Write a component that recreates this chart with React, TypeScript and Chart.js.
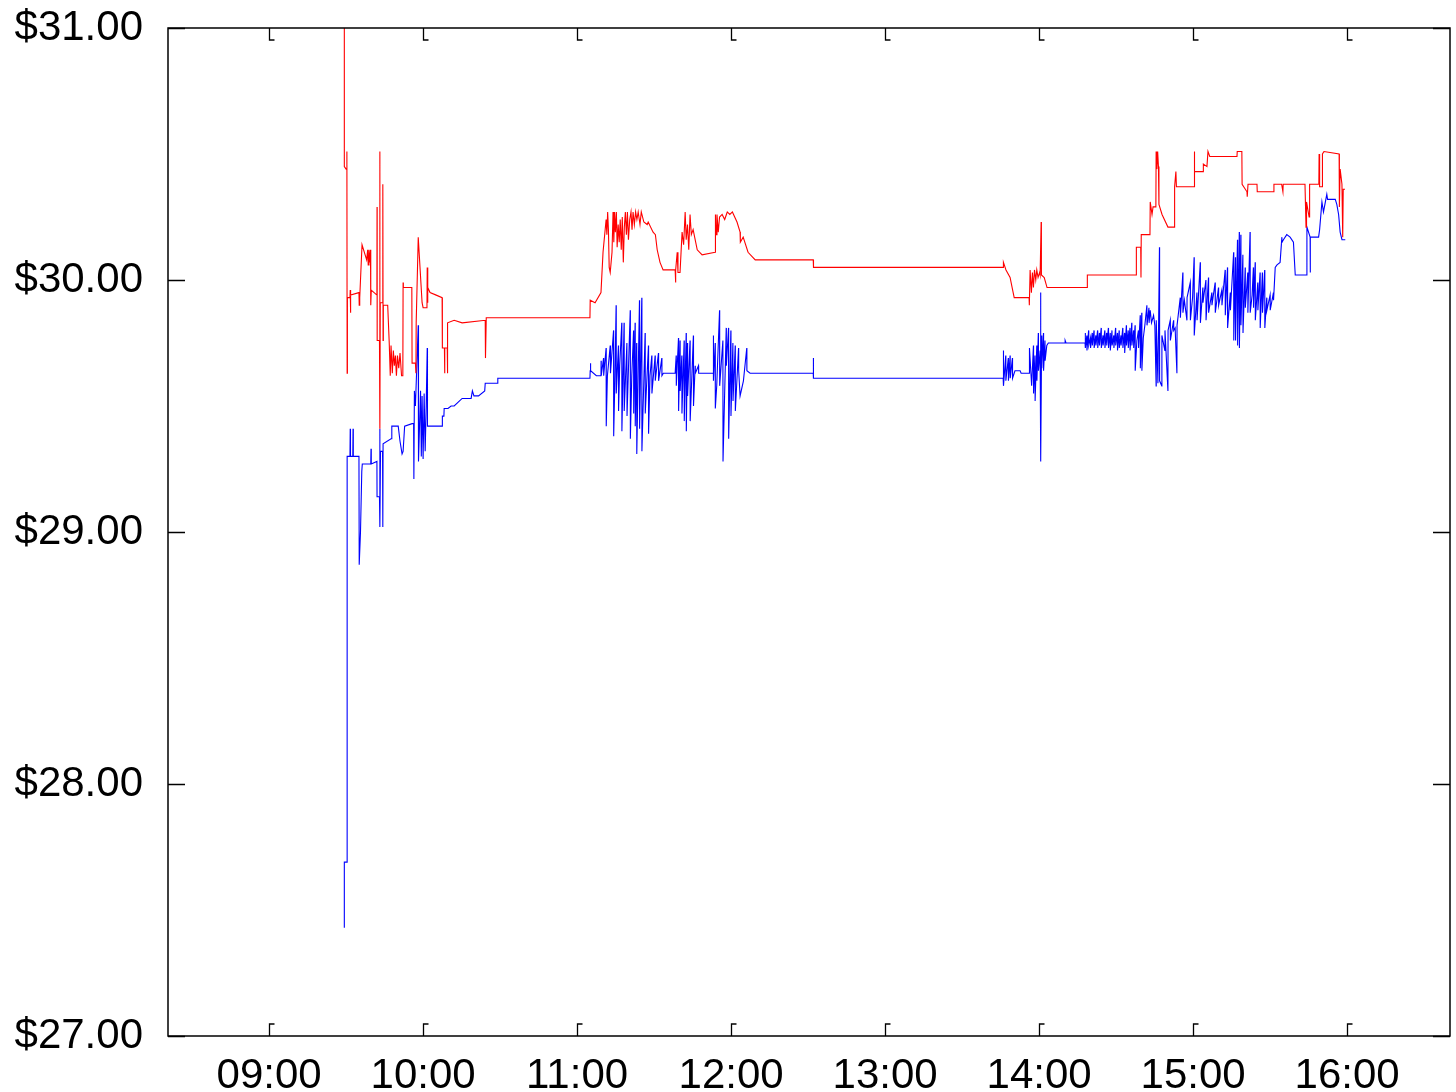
import React, { useEffect, useRef } from 'react';
import { Chart, registerables } from 'chart.js';

Chart.register(...registerables);

// Time axis in minutes after midnight
const xMin = 500.6;
const xMax = 1000.1;
const xTickMinutes = [540, 600, 660, 720, 780, 840, 900, 960];
const xTickLabels = ['09:00', '10:00', '11:00', '12:00', '13:00', '14:00', '15:00', '16:00'];
const yTickValues = [27, 28, 29, 30, 31];
const yTickLabels = ['$27.00', '$28.00', '$29.00', '$30.00', '$31.00'];

// Ask quotes (red): [minute, price]
const askTicks: [number, number][] = [
  [569.3, 31.1], [569.3, 30.45], [570.0, 30.44], [570.3, 30.51], [570.4, 29.63], [570.5, 29.93],
  [571.5, 29.93], [571.6, 29.96], [571.7, 29.87], [571.8, 29.94], [575.0, 29.95], [575.1, 29.9], [575.3, 29.93],
  [576.2, 30.14], [578.0, 30.08], [578.4, 30.12], [578.6, 30.06], [578.9, 30.12], [579.1, 30.07], [579.5, 30.12],
  [579.6, 29.9], [579.8, 29.96], [582.0, 29.94], [582.05, 30.29], [582.1, 29.76], [583.0, 29.76], [583.1, 30.51],
  [583.2, 29.41], [583.3, 29.91], [584.2, 29.91], [584.3, 30.38], [584.4, 29.76], [584.5, 29.9], [586.2, 29.9],
  [586.8, 29.75], [587.2, 29.62], [587.5, 29.74], [588.0, 29.63], [588.4, 29.72], [588.8, 29.66], [589.2, 29.7],
  [589.6, 29.62], [590.0, 29.7], [590.5, 29.65], [591.0, 29.71], [591.6, 29.62], [592.1, 29.62], [592.2, 29.99],
  [592.3, 29.97], [595.6, 29.97], [595.7, 29.67], [597.0, 29.67], [597.2, 29.63], [597.3, 29.83], [598.1, 30.17],
  [599.6, 29.91], [600.0, 29.89], [601.5, 29.89], [601.6, 30.05], [601.7, 29.91], [601.9, 29.97], [602.7, 29.95],
  [605.1, 29.94], [607.4, 29.93], [607.5, 29.73], [608.3, 29.73], [608.35, 29.63], [608.5, 29.73], [609.4, 29.73],
  [609.45, 29.63], [609.6, 29.83], [612.1, 29.84], [615.2, 29.83], [624.2, 29.84], [624.3, 29.69], [624.6, 29.85],
  [665.0, 29.85], [665.1, 29.92], [667.0, 29.91], [669.3, 29.95], [670.1, 30.11], [671.3, 30.24], [671.6, 30.18],
  [671.9, 30.27], [672.2, 30.2], [672.5, 30.05], [672.9, 30.03], [673.6, 30.11], [674.0, 30.27], [674.3, 30.15],
  [674.6, 30.27], [674.9, 30.19], [675.3, 30.27], [675.6, 30.13], [676.0, 30.22], [676.4, 30.15], [676.8, 30.24],
  [677.2, 30.12], [677.6, 30.25], [678.0, 30.07], [678.4, 30.21], [678.8, 30.27], [679.2, 30.18], [679.6, 30.27],
  [680.0, 30.16], [680.5, 30.24], [681.0, 30.27], [681.4, 30.2], [681.8, 30.27], [682.3, 30.22], [682.8, 30.27],
  [683.3, 30.24], [683.8, 30.27], [684.5, 30.22], [685.0, 30.27], [686.0, 30.23], [687.3, 30.22], [687.7, 30.23],
  [689.6, 30.19], [690.5, 30.18], [691.2, 30.12], [692.3, 30.07], [693.5, 30.04], [698.2, 30.04], [698.3, 29.99],
  [698.5, 30.04], [699.0, 30.11], [699.3, 30.03], [700.1, 30.03], [700.9, 30.19], [701.5, 30.14], [702.1, 30.27],
  [702.5, 30.16], [703.0, 30.22], [703.5, 30.12], [704.0, 30.26], [704.5, 30.18], [705.2, 30.2], [706.8, 30.12],
  [708.7, 30.1], [713.8, 30.11], [713.9, 30.26], [714.2, 30.18], [714.5, 30.26], [715.0, 30.19], [715.5, 30.25],
  [716.5, 30.26], [717.5, 30.24], [718.5, 30.27], [719.5, 30.26], [720.5, 30.27], [722.3, 30.23], [723.5, 30.19],
  [723.6, 30.15], [724.7, 30.17], [726.6, 30.11], [729.4, 30.08], [752.0, 30.08], [752.1, 30.05], [826.0, 30.05],
  [826.1, 30.07], [827.1, 30.04], [828.7, 30.01], [829.5, 29.97], [830.3, 29.93], [836.1, 29.93], [836.2, 29.9],
  [836.5, 30.04], [837.0, 29.95], [837.4, 30.03], [837.8, 29.97], [838.2, 30.04], [838.7, 30.0], [839.1, 30.04],
  [839.6, 30.01], [840.2, 30.03], [840.4, 30.02], [840.8, 30.23], [840.9, 30.02], [842.0, 30.01], [843.1, 29.97],
  [858.7, 29.97], [858.8, 30.02], [877.8, 30.02], [877.9, 30.13], [879.6, 30.13], [879.7, 30.01], [879.8, 30.18],
  [883.2, 30.18], [883.3, 30.31], [884.0, 30.26], [884.4, 30.29], [885.5, 30.29], [885.6, 30.51], [885.9, 30.44],
  [886.2, 30.51], [886.5, 30.45], [886.7, 30.3], [887.9, 30.26], [890.2, 30.21], [892.6, 30.21], [892.8, 30.37],
  [893.3, 30.43], [893.5, 30.37], [900.4, 30.37], [900.5, 30.51], [900.6, 30.43], [903.9, 30.43], [904.0, 30.46],
  [905.4, 30.45], [905.8, 30.51], [906.5, 30.49], [908.6, 30.49], [917.1, 30.49], [917.2, 30.51], [919.0, 30.51],
  [919.1, 30.38], [921.0, 30.35], [921.1, 30.33], [921.4, 30.38], [924.9, 30.38], [925.0, 30.35], [928.8, 30.35],
  [931.2, 30.35], [931.5, 30.38], [934.5, 30.38], [935.0, 30.35], [935.1, 30.38], [943.6, 30.38], [944.0, 30.21],
  [944.2, 30.31], [945.2, 30.25], [945.4, 30.38], [949.0, 30.38], [949.1, 30.5], [949.3, 30.37], [950.3, 30.37],
  [950.4, 30.5], [951.0, 30.51], [956.9, 30.5], [957.0, 30.29], [957.3, 30.44], [958.0, 30.38], [958.3, 30.17],
  [958.5, 30.36], [959.2, 30.36],
];

// Bid quotes (blue): [minute, price]
const bidTicks: [number, number][] = [
  [569.3, 27.43], [569.3, 27.69], [570.4, 27.69], [570.4, 29.3], [571.5, 29.3], [571.6, 29.41], [571.7, 29.3],
  [572.6, 29.3], [572.7, 29.41], [572.8, 29.3], [575.0, 29.3], [575.1, 28.87], [575.6, 29.0], [576.1, 29.24],
  [576.3, 29.27], [579.6, 29.27], [579.7, 29.33], [579.8, 29.27], [582.0, 29.28], [582.05, 29.14], [583.0, 29.14],
  [583.1, 29.41], [583.2, 29.02], [583.4, 29.32], [584.2, 29.32], [584.3, 29.02], [584.4, 29.35], [587.5, 29.37],
  [587.8, 29.42], [590.3, 29.42], [591.0, 29.36], [591.8, 29.31], [592.2, 29.32], [592.8, 29.42], [595.7, 29.43],
  [596.3, 29.43], [596.4, 29.21], [596.6, 29.56], [597.0, 29.5], [598.1, 29.82], [598.2, 29.28], [599.0, 29.56],
  [599.3, 29.3], [599.6, 29.54], [600.0, 29.29], [600.4, 29.55], [600.8, 29.32], [601.2, 29.5], [601.6, 29.73],
  [601.7, 29.42], [607.4, 29.42], [607.5, 29.46], [608.1, 29.46], [608.2, 29.49], [609.7, 29.49], [610.9, 29.5],
  [612.1, 29.5], [615.2, 29.53], [618.7, 29.53], [619.2, 29.56], [619.8, 29.54], [621.6, 29.54], [624.0, 29.56],
  [624.2, 29.59], [629.0, 29.59], [629.1, 29.61], [665.0, 29.61], [665.1, 29.64], [665.2, 29.67], [665.3, 29.64],
  [667.5, 29.62], [669.3, 29.62], [669.35, 29.68], [669.4, 29.62], [670.3, 29.69], [670.35, 29.62], [671.3, 29.73],
  [671.35, 29.42], [671.8, 29.62], [672.9, 29.74], [673.0, 29.63], [674.2, 29.8], [674.25, 29.38], [674.7, 29.6],
  [675.2, 29.9], [675.25, 29.55], [676.1, 29.74], [676.15, 29.48], [676.6, 29.66], [677.4, 29.83], [677.45, 29.4],
  [678.3, 29.83], [678.35, 29.48], [679.4, 29.75], [679.45, 29.46], [680.7, 29.88], [680.75, 29.37], [681.3, 29.62],
  [682.0, 29.8], [682.05, 29.47], [682.6, 29.83], [682.65, 29.42], [683.2, 29.75], [683.25, 29.31], [684.3, 29.92],
  [684.35, 29.41], [685.2, 29.93], [685.25, 29.32], [686.5, 29.79], [686.55, 29.47], [687.8, 29.74], [687.85, 29.39],
  [688.4, 29.62], [689.1, 29.7], [689.15, 29.55], [690.4, 29.7], [690.45, 29.6], [691.7, 29.71], [691.75, 29.6],
  [693.0, 29.69], [693.05, 29.62], [693.6, 29.63], [698.2, 29.63], [698.6, 29.7], [698.65, 29.58], [699.5, 29.77],
  [699.55, 29.48], [700.1, 29.76], [700.15, 29.56], [700.8, 29.7], [700.85, 29.47], [701.7, 29.76], [701.75, 29.44],
  [702.5, 29.79], [702.55, 29.4], [703.0, 29.75], [703.05, 29.54], [704.0, 29.76], [704.05, 29.44], [705.3, 29.78],
  [705.35, 29.5], [706.0, 29.66], [706.05, 29.63], [707.3, 29.66], [707.35, 29.63], [713.1, 29.63], [713.1, 29.78],
  [713.15, 29.6], [713.8, 29.75], [713.85, 29.49], [714.4, 29.58], [715.5, 29.88], [715.55, 29.58], [716.8, 29.76],
  [716.85, 29.28], [718.1, 29.81], [718.15, 29.66], [719.0, 29.81], [719.05, 29.37], [719.9, 29.8], [719.95, 29.46],
  [720.7, 29.75], [720.75, 29.52], [721.6, 29.74], [721.65, 29.48], [722.9, 29.73], [722.95, 29.64], [723.5, 29.54],
  [724.8, 29.6], [726.1, 29.73], [726.15, 29.64], [727.4, 29.63], [752.0, 29.63], [752.05, 29.69], [752.1, 29.61],
  [826.0, 29.61], [826.1, 29.72], [826.15, 29.58], [827.0, 29.7], [827.05, 29.6], [828.0, 29.69], [828.05, 29.6],
  [828.7, 29.7], [828.75, 29.61], [829.6, 29.69], [829.65, 29.61], [830.6, 29.64], [832.6, 29.64], [833.0, 29.63],
  [836.2, 29.63], [836.25, 29.73], [837.1, 29.58], [837.8, 29.74], [837.85, 29.55], [838.4, 29.7], [838.45, 29.52],
  [839.1, 29.74], [839.15, 29.6], [839.7, 29.79], [839.75, 29.64], [840.4, 29.72], [840.6, 29.95], [840.65, 29.28],
  [841.0, 29.78], [841.05, 29.65], [841.7, 29.79], [841.75, 29.64], [842.3, 29.76], [842.35, 29.68], [843.0, 29.74],
  [843.6, 29.75], [850.1, 29.75], [850.15, 29.76], [850.5, 29.75], [857.9, 29.75], [858.0, 29.79], [858.05, 29.73],
  [858.6, 29.78], [858.65, 29.72], [859.3, 29.8], [859.35, 29.74], [860.0, 29.77], [860.05, 29.73], [860.7, 29.79],
  [860.75, 29.74], [861.4, 29.8], [861.45, 29.73], [862.1, 29.78], [862.15, 29.74], [862.8, 29.8], [862.85, 29.73],
  [863.5, 29.79], [863.55, 29.74], [864.2, 29.81], [864.25, 29.73], [864.9, 29.78], [864.95, 29.74], [865.6, 29.8],
  [865.65, 29.73], [866.3, 29.79], [866.35, 29.74], [867.0, 29.81], [867.05, 29.73], [867.7, 29.79], [867.75, 29.72],
  [868.4, 29.8], [868.45, 29.74], [869.1, 29.78], [869.15, 29.73], [869.8, 29.81], [869.85, 29.74], [870.5, 29.79],
  [870.55, 29.72], [871.2, 29.8], [871.25, 29.73], [871.9, 29.78], [871.95, 29.74], [872.6, 29.81], [872.65, 29.73],
  [873.3, 29.79], [873.35, 29.71], [874.0, 29.82], [874.05, 29.74], [874.7, 29.8], [874.75, 29.73], [875.4, 29.81],
  [875.45, 29.72], [876.1, 29.83], [876.15, 29.74], [876.8, 29.8], [876.85, 29.73], [877.4, 29.82], [877.45, 29.64],
  [878.1, 29.76], [878.7, 29.8], [878.75, 29.73], [879.4, 29.86], [879.45, 29.65], [880.0, 29.87], [880.05, 29.64],
  [880.6, 29.77], [881.2, 29.82], [882.0, 29.9], [882.05, 29.82], [882.8, 29.89], [882.85, 29.83], [883.3, 29.88],
  [883.8, 29.83], [884.6, 29.86], [885.1, 29.82], [885.6, 29.58], [885.65, 29.84], [886.3, 29.59], [886.9, 30.13],
  [886.95, 29.6], [887.8, 29.58], [887.85, 29.78], [889.0, 29.72], [889.05, 29.8], [890.2, 29.56], [890.25, 29.8],
  [891.1, 29.84], [891.15, 29.76], [892.4, 29.84], [892.45, 29.8], [893.0, 29.81], [893.7, 29.63], [893.75, 29.82],
  [895.0, 29.93], [895.05, 29.85], [896.0, 30.03], [896.05, 29.87], [896.6, 29.92], [897.6, 29.84], [897.65, 29.93],
  [898.9, 29.99], [898.95, 29.84], [899.8, 29.93], [900.4, 30.09], [900.45, 29.78], [901.5, 29.95], [901.55, 29.84],
  [902.8, 30.07], [902.85, 29.83], [903.8, 29.97], [903.85, 29.91], [905.0, 30.0], [905.05, 29.84], [906.0, 30.01],
  [906.05, 29.87], [907.3, 29.95], [907.35, 29.9], [908.6, 29.99], [908.65, 29.87], [909.9, 29.97], [909.95, 29.9],
  [911.2, 29.96], [911.25, 29.9], [912.5, 30.04], [912.55, 29.86], [913.4, 30.05], [913.45, 29.81], [914.5, 29.95],
  [914.55, 29.88], [915.8, 30.11], [915.85, 29.76], [916.5, 30.09], [916.55, 29.76], [917.3, 30.16], [917.35, 29.74],
  [918.0, 30.19], [918.05, 29.73], [918.6, 30.18], [918.65, 29.82], [919.4, 30.1], [919.45, 29.79], [920.3, 30.05],
  [920.35, 29.89], [921.3, 30.03], [921.35, 29.87], [922.2, 30.19], [922.25, 29.87], [923.0, 29.94], [923.5, 30.05],
  [923.55, 29.89], [924.2, 30.07], [924.25, 29.84], [925.2, 29.99], [925.25, 29.88], [926.1, 30.03], [926.15, 29.81],
  [927.0, 30.03], [927.05, 29.87], [927.9, 30.04], [927.95, 29.81], [928.7, 29.93], [928.75, 29.88], [930.0, 29.94],
  [930.05, 29.88], [931.3, 29.95], [931.35, 29.92], [932.0, 30.05], [932.7, 30.06], [933.9, 30.07], [934.6, 30.17],
  [934.65, 30.15], [935.2, 30.16], [936.5, 30.18], [937.8, 30.17], [939.1, 30.15], [939.8, 30.02], [944.3, 30.02],
  [944.35, 30.21], [945.6, 30.17], [945.65, 30.03], [945.7, 30.17], [948.9, 30.17], [949.3, 30.2], [950.2, 30.31],
  [950.8, 30.27], [952.1, 30.34], [952.4, 30.32], [955.4, 30.32], [956.0, 30.3], [956.7, 30.26], [957.3, 30.19],
  [958.0, 30.16], [959.3, 30.16],
];

const FONT = { family: '"Liberation Sans", Arial, sans-serif', size: 42 };

const framePlugin = {
  id: 'framePlugin',
  afterDraw(chart: any) {
    const { ctx, chartArea: a, scales } = chart;
    ctx.save();
    ctx.strokeStyle = '#000';
    ctx.lineWidth = 1.5;
    ctx.strokeRect(a.left, a.top, a.right - a.left, a.bottom - a.top);
    ctx.lineWidth = 1.3;
    for (const v of xTickMinutes) {
      const x = Math.round(scales.x.getPixelForValue(v)) + 0.5;
      ctx.beginPath();
      ctx.moveTo(x, a.bottom);
      ctx.lineTo(x, a.bottom - 12);
      ctx.lineTo(x + 5, a.bottom - 12);
      ctx.moveTo(x, a.top);
      ctx.lineTo(x, a.top + 12);
      ctx.lineTo(x + 5, a.top + 12);
      ctx.stroke();
    }
    for (const v of yTickValues) {
      const y = Math.round(scales.y.getPixelForValue(v)) + 0.5;
      ctx.beginPath();
      ctx.moveTo(a.left, y);
      ctx.lineTo(a.left + 17, y);
      ctx.moveTo(a.right, y);
      ctx.lineTo(a.right - 17, y);
      ctx.stroke();
    }
    ctx.restore();
  },
};

export default function App() {
  const ref = useRef<HTMLCanvasElement | null>(null);

  useEffect(() => {
    const canvas = ref.current;
    if (!canvas) return;
    const chart = new Chart(canvas, {
      type: 'line',
      data: {
        datasets: [
          {
            label: 'Ask',
            data: askTicks.map(([x, y]) => ({ x, y })),
            borderColor: '#ff0000',
            borderWidth: 1.1,
            pointRadius: 0,
            tension: 0,
            fill: false,
          },
          {
            label: 'Bid',
            data: bidTicks.map(([x, y]) => ({ x, y })),
            borderColor: '#0000ff',
            borderWidth: 1.1,
            pointRadius: 0,
            tension: 0,
            fill: false,
          },
        ],
      },
      options: {
        responsive: false,
        animation: false,
        devicePixelRatio: 1,
        layout: { padding: { top: 28, right: 6, left: 0, bottom: 0 } },
        plugins: { legend: { display: false }, tooltip: { enabled: false } },
        scales: {
          x: {
            type: 'linear',
            min: xMin,
            max: xMax,
            afterBuildTicks: (s: any) => {
              s.ticks = xTickMinutes.map((value) => ({ value }));
            },
            afterFit: (s: any) => {
              s.height = 56;
              s.paddingLeft = 0;
              s.paddingRight = 0;
            },
            grid: { display: false, drawTicks: false },
            border: { display: false },
            ticks: {
              padding: 15,
              font: FONT,
              color: '#000',
              maxRotation: 0,
              autoSkip: false,
              callback: (_v: any, i: number) => xTickLabels[i],
            },
          },
          y: {
            type: 'linear',
            min: 27,
            max: 31,
            afterBuildTicks: (s: any) => {
              s.ticks = yTickValues.map((value) => ({ value }));
            },
            afterFit: (s: any) => {
              s.width = 168;
              s.paddingTop = 0;
              s.paddingBottom = 0;
            },
            grid: { display: false, drawTicks: false },
            border: { display: false },
            ticks: {
              padding: 25,
              font: FONT,
              color: '#000',
              autoSkip: false,
              callback: (_v: any, i: number) => yTickLabels[i],
            },
          },
        },
      },
      plugins: [framePlugin],
    } as any);
    return () => chart.destroy();
  }, []);

  return (
    <div style={{ position: 'absolute', left: 0, top: 0, width: 1456, height: 1092, background: '#fff' }}>
      <canvas ref={ref} width={1456} height={1092} style={{ display: 'block' }} />
    </div>
  );
}
